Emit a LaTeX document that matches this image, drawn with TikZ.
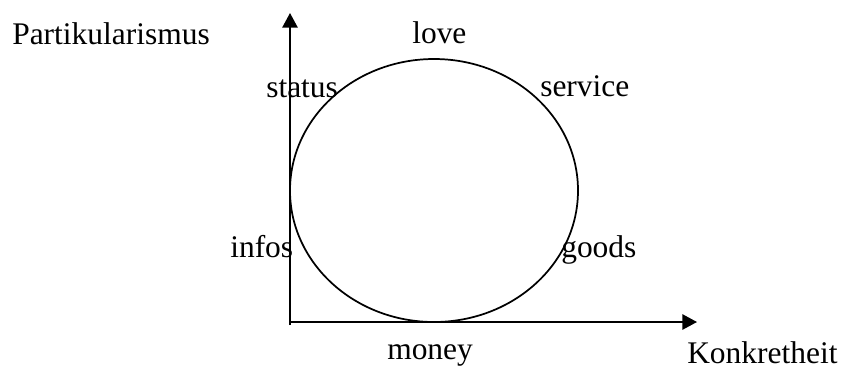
\documentclass[tikz,border=0pt]{standalone}
\usepackage{fontspec}
\setmainfont{Liberation Serif}
\usetikzlibrary{arrows.meta}
\begin{document}
\begin{tikzpicture}[x=0.75pt,y=-0.75pt,
  lbl/.style={anchor=base west,inner sep=0pt,font=\fontsize{23.6}{28}\selectfont},
  axis/.style={line width=1.3pt,-{Triangle[length=11pt,width=11.5pt]}},
  line/.style={line width=1.3pt}]
\useasboundingbox (0,0) rectangle (841,369);
\coordinate (o) at (290,325);
\coordinate (ytip) at (290,13);
\coordinate (xo) at (290,322);
\coordinate (xtip) at (697,322);
\draw[axis] (o) -- (ytip);
\draw[axis] (xo) -- (xtip);
\draw[line] (434,190.5) ellipse [x radius=144, y radius=131.5];
\node[lbl] (part) at (12,44) {Partikularismus};
\node[lbl] (love) at (412,43) {love};
\node[lbl] (status) at (266,97) {status};
\node[lbl] (service) at (540,96) {service};
\node[lbl] (infos) at (230,257) {infos};
\node[lbl] (goods) at (561,257) {goods};
\node[lbl] (money) at (387,359) {money};
\node[lbl] (konk) at (687,363) {Konkretheit};
\end{tikzpicture}
\end{document}
